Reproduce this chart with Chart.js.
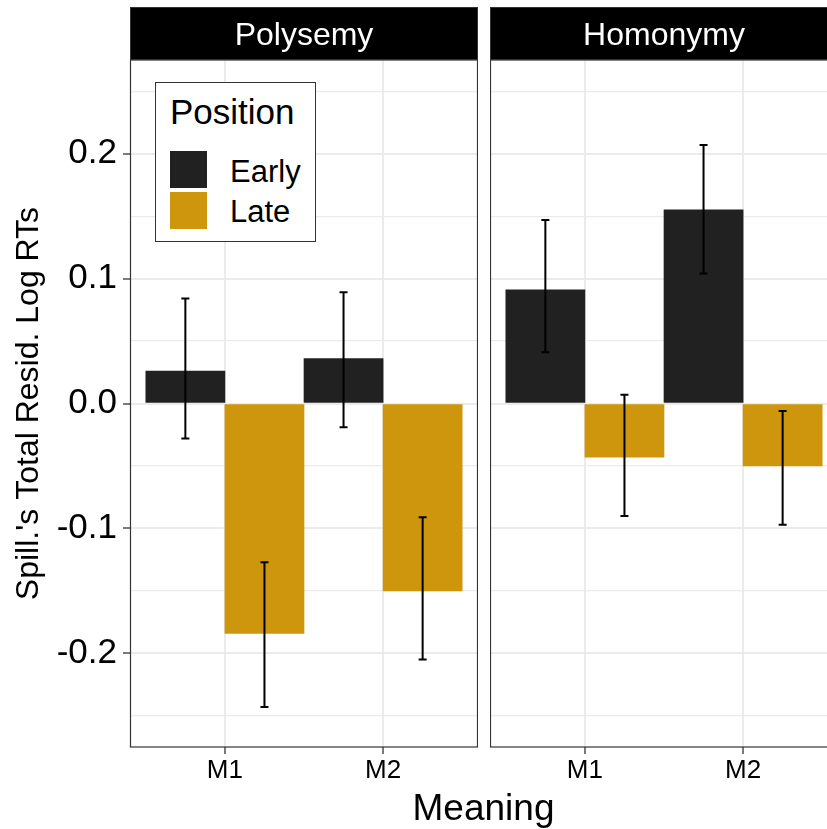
<!DOCTYPE html>
<html>
<head>
<meta charset="utf-8">
<script src="https://cdn.jsdelivr.net/npm/chart.js@4.4.1/dist/chart.umd.min.js"></script>
<style>
  body { margin: 0; width: 827px; height: 829px; overflow: hidden; position: relative; background: #fff;
         font-family: "Liberation Sans", Arial, Helvetica, sans-serif; }
  canvas { position: absolute; top: 0; }
  #left { left: 0; }
  #right { left: 490px; }
  .strip { position: absolute; top: 7px; width: 348px; height: 53px; box-sizing: border-box;
           background: #000; border: 1px solid #333; }
  .txt { position: absolute; white-space: nowrap; line-height: 1; color: #000; }
  .strip-label { color: #fff; font-size: 32px; width: 348px; text-align: center; top: 18px; }
  #legend { position: absolute; left: 155px; top: 82px; width: 161px; height: 160px; box-sizing: border-box;
            border: 1.2px solid #333; background: #fff; }
  .swatch { position: absolute; width: 37px; height: 37px; }
</style>
</head>
<body>
<canvas id="left" width="478" height="829"></canvas>
<canvas id="right" width="348" height="829"></canvas>
<div id="overlay"></div>
<script>
const categories = ['M1', 'M2'];
const panelNames = ['Polysemy', 'Homonymy'];
const seriesNames = ['Early', 'Late'];
const seriesColors = ['#212121', '#CD960C'];

// Polysemy
const polyEarly = [0.026, 0.036];
const polyEarlyLow = [-0.028, -0.019];
const polyEarlyHigh = [0.084, 0.089];
const polyLate = [-0.184, -0.150];
const polyLateLow = [-0.243, -0.205];
const polyLateHigh = [-0.127, -0.091];

// Homonymy
const homEarly = [0.091, 0.155];
const homEarlyLow = [0.041, 0.104];
const homEarlyHigh = [0.147, 0.207];
const homLate = [-0.043, -0.050];
const homLateLow = [-0.090, -0.097];
const homLateHigh = [0.007, -0.006];

const yMajorTicks = [-0.2, -0.1, 0, 0.1, 0.2];
const yTickLabels = ['-0.2', '-0.1', '0.0', '0.1', '0.2'];
const yMinorTicks = [-0.25, -0.15, -0.05, 0.05, 0.15, 0.25];

Chart.defaults.font.family = '"Liberation Sans", Arial, Helvetica, sans-serif';
Chart.defaults.color = '#000';

function majorIndex(v) {
  return yMajorTicks.findIndex((t) => Math.abs(t - v) < 1e-9);
}

// error bars drawn on top of the bars
const errorBars = {
  id: 'errorBars',
  afterDatasetsDraw(chart) {
    const ctx = chart.ctx;
    const y = chart.scales.y;
    ctx.save();
    ctx.strokeStyle = '#000';
    ctx.lineWidth = 2;
    chart.data.datasets.forEach((ds, i) => {
      chart.getDatasetMeta(i).data.forEach((bar, j) => {
        const top = y.getPixelForValue(ds.high[j]);
        const bottom = y.getPixelForValue(ds.low[j]);
        ctx.beginPath();
        ctx.moveTo(bar.x, top);
        ctx.lineTo(bar.x, bottom);
        ctx.moveTo(bar.x - 4, top);
        ctx.lineTo(bar.x + 4, top);
        ctx.moveTo(bar.x - 4, bottom);
        ctx.lineTo(bar.x + 4, bottom);
        ctx.stroke();
      });
    });
    ctx.restore();
  }
};

const panelBorder = {
  id: 'panelBorder',
  afterDraw(chart) {
    const { left, top, right, bottom } = chart.chartArea;
    const ctx = chart.ctx;
    ctx.save();
    ctx.strokeStyle = '#333';
    ctx.lineWidth = 1.2;
    ctx.strokeRect(left + 0.5, top, right - left - 1, bottom - top);
    ctx.restore();
  }
};

function makePanel(id, early, earlyLow, earlyHigh, late, lateLow, lateHigh, showY) {
  const toPoints = (vals) => vals.map((v, i) => ({ x: i + 1, y: v }));
  return new Chart(document.getElementById(id), {
    type: 'bar',
    data: {
      datasets: [
        { label: seriesNames[0], data: toPoints(early), low: earlyLow, high: earlyHigh,
          backgroundColor: seriesColors[0] },
        { label: seriesNames[1], data: toPoints(late), low: lateLow, high: lateHigh,
          backgroundColor: seriesColors[1] }
      ]
    },
    options: {
      responsive: false,
      animation: false,
      devicePixelRatio: 1,
      categoryPercentage: 1,
      barPercentage: 1,
      layout: { padding: { top: 60, left: 0, right: 0, bottom: 0 } },
      plugins: { legend: { display: false }, tooltip: { enabled: false } },
      scales: {
        x: {
          type: 'linear',
          min: 0.4,
          max: 2.6,
          offset: false,
          afterBuildTicks: (s) => { s.ticks = categories.map((c, i) => ({ value: i + 1 })); },
          afterFit: (s) => { s.height = 82; },
          border: { display: false },
          grid: { offset: false, color: '#EBEBEB', lineWidth: 2, tickColor: '#333', tickLength: 7, tickWidth: 1.3 },
          ticks: {
            autoSkip: false, maxRotation: 0, padding: 1,
            font: { size: 26 },
            callback: (v, i) => categories[i]
          }
        },
        y: {
          min: -0.275,
          max: 0.275,
          afterBuildTicks: (s) => {
            s.ticks = yMajorTicks.concat(yMinorTicks).sort((a, b) => a - b).map((v) => ({ value: v }));
          },
          afterFit: (s) => { s.width = showY ? 130 : 0; },
          border: { display: false },
          grid: {
            color: '#EBEBEB',
            lineWidth: (c) => (c.tick && majorIndex(c.tick.value) >= 0 ? 2 : 1.2),
            drawTicks: showY,
            tickLength: 7,
            tickWidth: 1.3,
            tickColor: (c) => (c.tick && majorIndex(c.tick.value) >= 0 ? '#333' : 'rgba(0,0,0,0)')
          },
          ticks: {
            display: showY,
            padding: 6,
            font: { size: 35 },
            callback: (v) => { const k = majorIndex(v); return k >= 0 ? yTickLabels[k] : ''; }
          },
          title: {
            display: showY,
            text: "Spill.'s Total Resid. Log RTs",
            font: { size: 32 },
            padding: { top: 10, bottom: 0 }
          }
        }
      }
    },
    plugins: [errorBars, panelBorder]
  });
}

makePanel('left', polyEarly, polyEarlyLow, polyEarlyHigh, polyLate, polyLateLow, polyLateHigh, true);
makePanel('right', homEarly, homEarlyLow, homEarlyHigh, homLate, homLateLow, homLateHigh, false);

// facet strips, legend and x title
const overlay = document.getElementById('overlay');
const panelLefts = [130, 490];
panelNames.forEach((name, i) => {
  const strip = document.createElement('div');
  strip.className = 'strip';
  strip.style.left = panelLefts[i] + 'px';
  overlay.appendChild(strip);
  const label = document.createElement('div');
  label.className = 'txt strip-label';
  label.style.left = panelLefts[i] + 'px';
  label.textContent = name;
  overlay.appendChild(label);
});

const legend = document.createElement('div');
legend.id = 'legend';
overlay.appendChild(legend);

function addText(text, left, top, size) {
  const d = document.createElement('div');
  d.className = 'txt';
  d.style.left = left + 'px';
  d.style.top = top + 'px';
  d.style.fontSize = size + 'px';
  d.textContent = text;
  overlay.appendChild(d);
  return d;
}

addText('Position', 170, 93.5, 35);
const swatchTops = [151, 191.5];
const labelTops = [155.5, 196];
seriesNames.forEach((name, i) => {
  const sw = document.createElement('div');
  sw.className = 'swatch';
  sw.style.left = '170px';
  sw.style.top = swatchTops[i] + 'px';
  sw.style.background = seriesColors[i];
  overlay.appendChild(sw);
  addText(name, 230, labelTops[i], 31);
});

const xTitle = addText('Meaning', 130, 789, 37);
xTitle.style.width = '707px';
xTitle.style.textAlign = 'center';
</script>
</body>
</html>
